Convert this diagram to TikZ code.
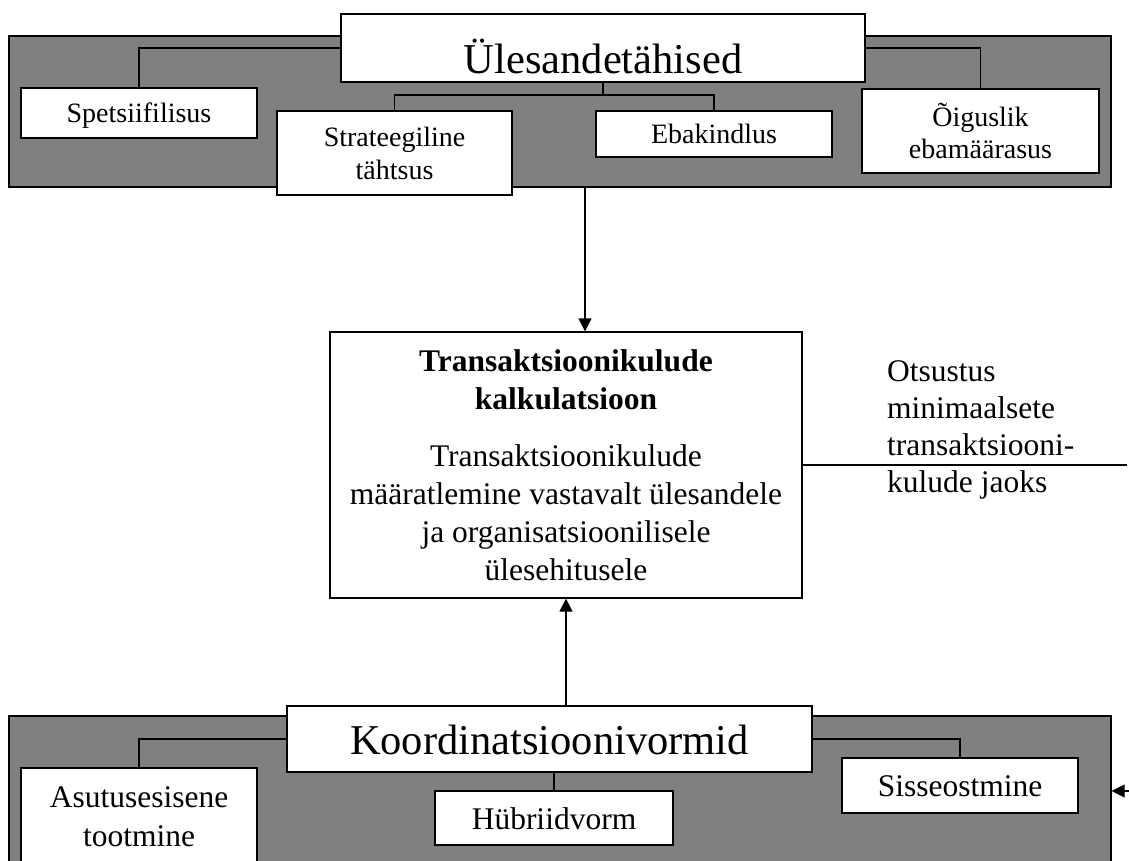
\documentclass[tikz,border=0pt]{standalone}
\usepackage{fontspec}
\setmainfont{Liberation Serif}
\usetikzlibrary{arrows.meta}

\tikzset{
  panel/.style={draw, fill=gray, line width=1.2pt, inner sep=0pt},
  box/.style={draw, fill=white, line width=1.2pt, inner sep=0pt, align=center},
  smalltext/.style={font=\fontsize{28}{33}\selectfont},
  midtext/.style={font=\fontsize{31.5}{38}\selectfont},
  titletext/.style={font=\fontsize{42.5}{48}\selectfont},
  link/.style={line width=1.1pt},
  arr/.style={line width=1.2pt, -{Triangle[length=13pt,width=13pt]}},
}

\begin{document}
\begin{tikzpicture}[x=1pt, y=-1pt]
  \clip (0,0) rectangle (1129,860);

  % upper panel
  \node[panel, minimum width=1102pt, minimum height=151pt] (toppanel) at (560,111.5) {};
  \node[box, titletext, minimum width=524pt, minimum height=68pt, text height=50pt, text depth=0pt] (tasks) at (603,48) {Ülesandetähised};
  \node[box, smalltext, minimum width=236pt, minimum height=50pt, text height=19.6pt, text depth=0pt] (spec) at (139,113) {Spetsiifilisus};
  \node[box, smalltext, minimum width=235pt, minimum height=84pt] (strat) at (394.5,153) {Strateegiline\\tähtsus};
  \node[box, smalltext, minimum width=236pt, minimum height=46pt, text height=19.6pt, text depth=0pt] (unc) at (714,134) {Ebakindlus};
  \node[box, font=\fontsize{28}{32}\selectfont, minimum width=237pt, minimum height=84pt] (legal) at (980.5,131) {Õiguslik\\ebamäärasus};

  \coordinate (tj) at (603,95);
  \draw[link] (tasks.west) -| (spec.north);
  \draw[link] (tasks.south) -- (tj);
  \draw[link] (strat.north) |- (tj) -| (unc.north);
  \draw[link] (tasks.east) -| (legal.north);

  % calculation
  \node[box, midtext, minimum width=472pt, minimum height=266pt] (calc) at (566,465)
    {\textbf{Transaktsioonikulude}\\\textbf{kalkulatsioon}\\[19pt]
     Transaktsioonikulude\\määratlemine vastavalt ülesandele\\ja organisatsioonilisele\\ülesehitusele};
  \node[anchor=north west, inner sep=0pt, align=left, font=\fontsize{31.5}{37}\selectfont] (decision) at (887,360.5)
    {Otsustus\\minimaalsete\\transaktsiooni-\\kulude jaoks};

  \coordinate (dropx) at (585,0);
  \coordinate (decend) at (1127,463);
  \draw[arr] (toppanel.south -| dropx) -- (calc.north -| dropx);
  \draw[link] (calc.east) -- (calc.east -| decend);

  % lower panel
  \node[panel, minimum width=1102pt, minimum height=154pt] (botpanel) at (560,793) {};
  \node[box, titletext, minimum width=525pt, minimum height=66pt, text height=30pt, text depth=0pt] (forms) at (549.5,739) {Koordinatsioonivormid};
  \node[box, font=\fontsize{31.5}{39}\selectfont, minimum width=236pt, minimum height=97pt] (inhouse) at (139,816.5) {Asutusesisene\\tootmine};
  \node[box, midtext, minimum width=238pt, minimum height=54pt, text height=22pt, text depth=0pt] (hybrid) at (554,818) {Hübriidvorm};
  \node[box, midtext, minimum width=236pt, minimum height=55pt, text height=22pt, text depth=0pt] (buy) at (960,785.5) {Sisseostmine};

  \draw[link] (forms.west) -| (inhouse.north);
  \draw[link] (hybrid.north) -- (hybrid.north |- forms.south);
  \draw[link] (forms.east) -| (buy.north);
  \draw[arr] (forms.north -| calc.south) -- (calc.south);

  \coordinate (feed) at (1129,791);
  \draw[arr] (feed) -- (botpanel.east |- feed);
\end{tikzpicture}
\end{document}
